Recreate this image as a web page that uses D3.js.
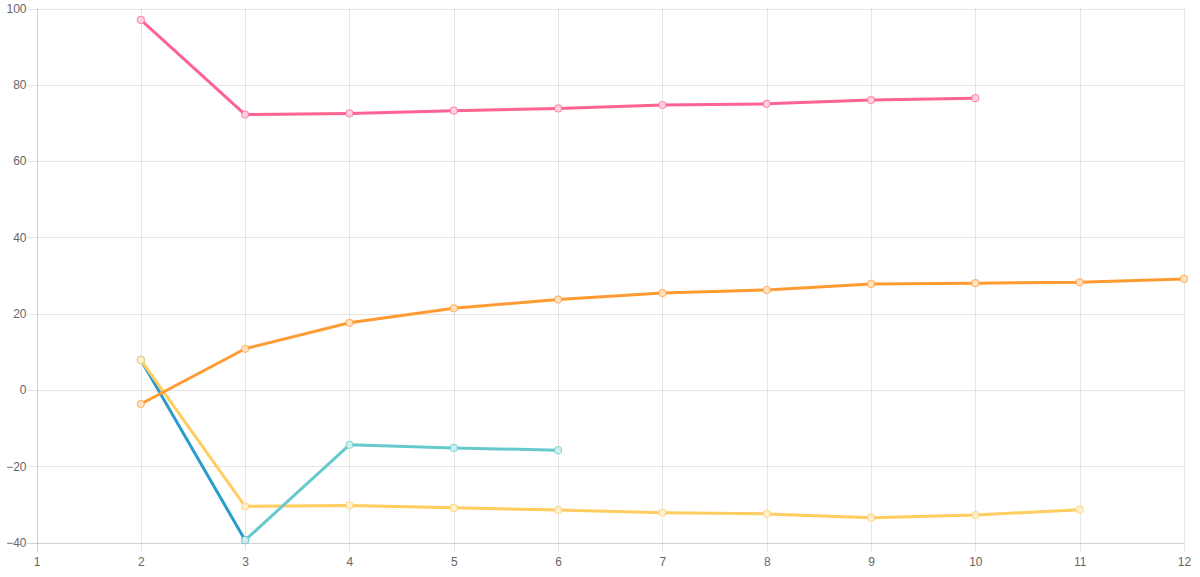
<!DOCTYPE html>
<html>
<head>
<meta charset="utf-8">
<script src="https://cdn.jsdelivr.net/npm/d3@7"></script>
<style>
  html, body { margin: 0; padding: 0; background: #fff; }
  svg text { font-family: "Helvetica Neue", Helvetica, Arial, "Liberation Sans", sans-serif; font-size: 12px; fill: #666; }
</style>
</head>
<body>
<svg id="chart" width="1200" height="577"></svg>
<script>
var xTicks = [1, 2, 3, 4, 5, 6, 7, 8, 9, 10, 11, 12];
var yTicks = [-40, -20, 0, 20, 40, 60, 80, 100];

// each series: [x, y] pairs
var pinkValues   = [[2, 97.0], [3, 72.2], [4, 72.5], [5, 73.2], [6, 73.8], [7, 74.7], [8, 75.0], [9, 76.0], [10, 76.5]];
var orangeValues = [[2, -3.7], [3, 10.8], [4, 17.6], [5, 21.4], [6, 23.7], [7, 25.4], [8, 26.2], [9, 27.8], [10, 28.0], [11, 28.2], [12, 29.1]];
var yellowValues = [[2, 7.9], [3, -30.5], [4, -30.3], [5, -30.9], [6, -31.5], [7, -32.2], [8, -32.5], [9, -33.5], [10, -32.8], [11, -31.4]];
var tealValues   = [[3, -39.4], [4, -14.4], [5, -15.2], [6, -15.8]];
var blueValues   = [[2, 7.9], [3, -39.4]];

// bottom first, top last
var series = [
  { values: blueValues,   color: "rgb(43,154,204)" },
  { values: yellowValues, color: "rgb(255,205,96)" },
  { values: tealValues,   color: "rgb(102,202,204)" },
  { values: orangeValues, color: "rgb(255,155,50)" },
  { values: pinkValues,   color: "rgb(255,99,145)" }
];

var padLeft = 36.5, padRight = 1184, padTop = 8.5, padBottom = 542.5;

var svg = d3.select("#chart");

var x = d3.scaleLinear().domain([1, 12]).range([padLeft, padRight]);
var y = d3.scaleLinear().domain([-40, 100]).range([padBottom, padTop]);

// grid
var grid = svg.append("g");
grid.selectAll("line.v").data(xTicks).enter().append("line")
  .attr("x1", function(d) { return Math.round(x(d)) + 0.5; })
  .attr("x2", function(d) { return Math.round(x(d)) + 0.5; })
  .attr("y1", padTop).attr("y2", padBottom + 9)
  .attr("stroke", function(d) { return d == 1 ? "rgba(0,0,0,0.18)" : "rgba(0,0,0,0.1)"; })
  .attr("stroke-width", 1);
grid.selectAll("line.h").data(yTicks).enter().append("line")
  .attr("x1", padLeft - 9).attr("x2", padRight)
  .attr("y1", function(d) { return Math.round(y(d)) + 0.5; })
  .attr("y2", function(d) { return Math.round(y(d)) + 0.5; })
  .attr("stroke", function(d) { return d == -40 ? "rgba(0,0,0,0.18)" : "rgba(0,0,0,0.1)"; })
  .attr("stroke-width", 1);

// axes labels through d3 axes
var xAxis = svg.append("g")
  .attr("transform", "translate(0," + (padBottom + 11) + ")")
  .call(d3.axisBottom(x).tickValues(xTicks).tickSize(0).tickPadding(4));
var yAxis = svg.append("g")
  .attr("transform", "translate(" + (padLeft - 10) + ",0)")
  .call(d3.axisLeft(y).tickValues(yTicks).tickSize(0).tickPadding(0));
xAxis.select(".domain").remove();
yAxis.select(".domain").remove();
svg.selectAll(".tick text").attr("fill", "#666").style("font-size", "12px");

var line = d3.line()
  .x(function(d) { return x(d[0]); })
  .y(function(d) { return y(d[1]); });

series.forEach(function(s) {
  var g = svg.append("g");
  g.append("path")
    .datum(s.values)
    .attr("d", line)
    .attr("fill", "none")
    .attr("stroke", s.color)
    .attr("stroke-width", 3)
    .attr("stroke-linejoin", "round");
  var c = d3.color(s.color);
  c.opacity = 0.3;
  g.selectAll("circle").data(s.values).enter().append("circle")
    .attr("cx", function(d) { return x(d[0]); })
    .attr("cy", function(d) { return y(d[1]); })
    .attr("r", 3.5)
    .attr("fill", "#fff")
    .attr("stroke", s.color)
    .attr("stroke-opacity", 0.7)
    .attr("stroke-width", 1.2);
  g.selectAll("circle.in").data(s.values).enter().append("circle")
    .attr("cx", function(d) { return x(d[0]); })
    .attr("cy", function(d) { return y(d[1]); })
    .attr("r", 3)
    .attr("fill", c.toString());
});
</script>
</body>
</html>
